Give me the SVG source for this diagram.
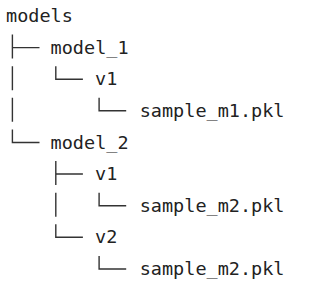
<svg xmlns="http://www.w3.org/2000/svg" width="311" height="290" viewBox="0 0 311 290">
<style>
text{font-family:"DejaVu Sans Mono","Liberation Mono",monospace;font-size:18.5px;fill:#222}
.c{fill:none;stroke:#333;stroke-width:1.4}
</style>
<rect width="311" height="290" fill="#fff"/>
<g id="connectors" class="c">
<path d="M12.4 34.6V58.6M12.4 47.6H39.5"/>
<path d="M12.4 66.2V90.2M12.4 97.8V121.8M12.4 129.5V142.5H39.5"/>
<path d="M55.8 66.2V79.2H82.9"/>
<path d="M99.1 97.8V110.8H126.2"/>
<path d="M55.8 161V185M55.8 174H82.9"/>
<path d="M55.8 192.7V216.7M55.8 224.3V237.3H82.9"/>
<path d="M99.1 192.7V205.7H126.2"/>
<path d="M99.1 256V269H126.2"/>
</g>
<g id="models"><text x="6" y="22">models</text></g>
<g id="model_1"><text x="50.6" y="53.6">model_1</text></g>
<g id="model_1_v1"><text x="95.1" y="85.2">v1</text></g>
<g id="sample_m1"><text x="139.7" y="116.8">sample_m1.pkl</text></g>
<g id="model_2"><text x="50.6" y="148.5">model_2</text></g>
<g id="model_2_v1"><text x="95.1" y="180">v1</text></g>
<g id="sample_m2_v1"><text x="139.7" y="211.7">sample_m2.pkl</text></g>
<g id="model_2_v2"><text x="95.1" y="243.3">v2</text></g>
<g id="sample_m2_v2"><text x="139.7" y="275">sample_m2.pkl</text></g>
</svg>
